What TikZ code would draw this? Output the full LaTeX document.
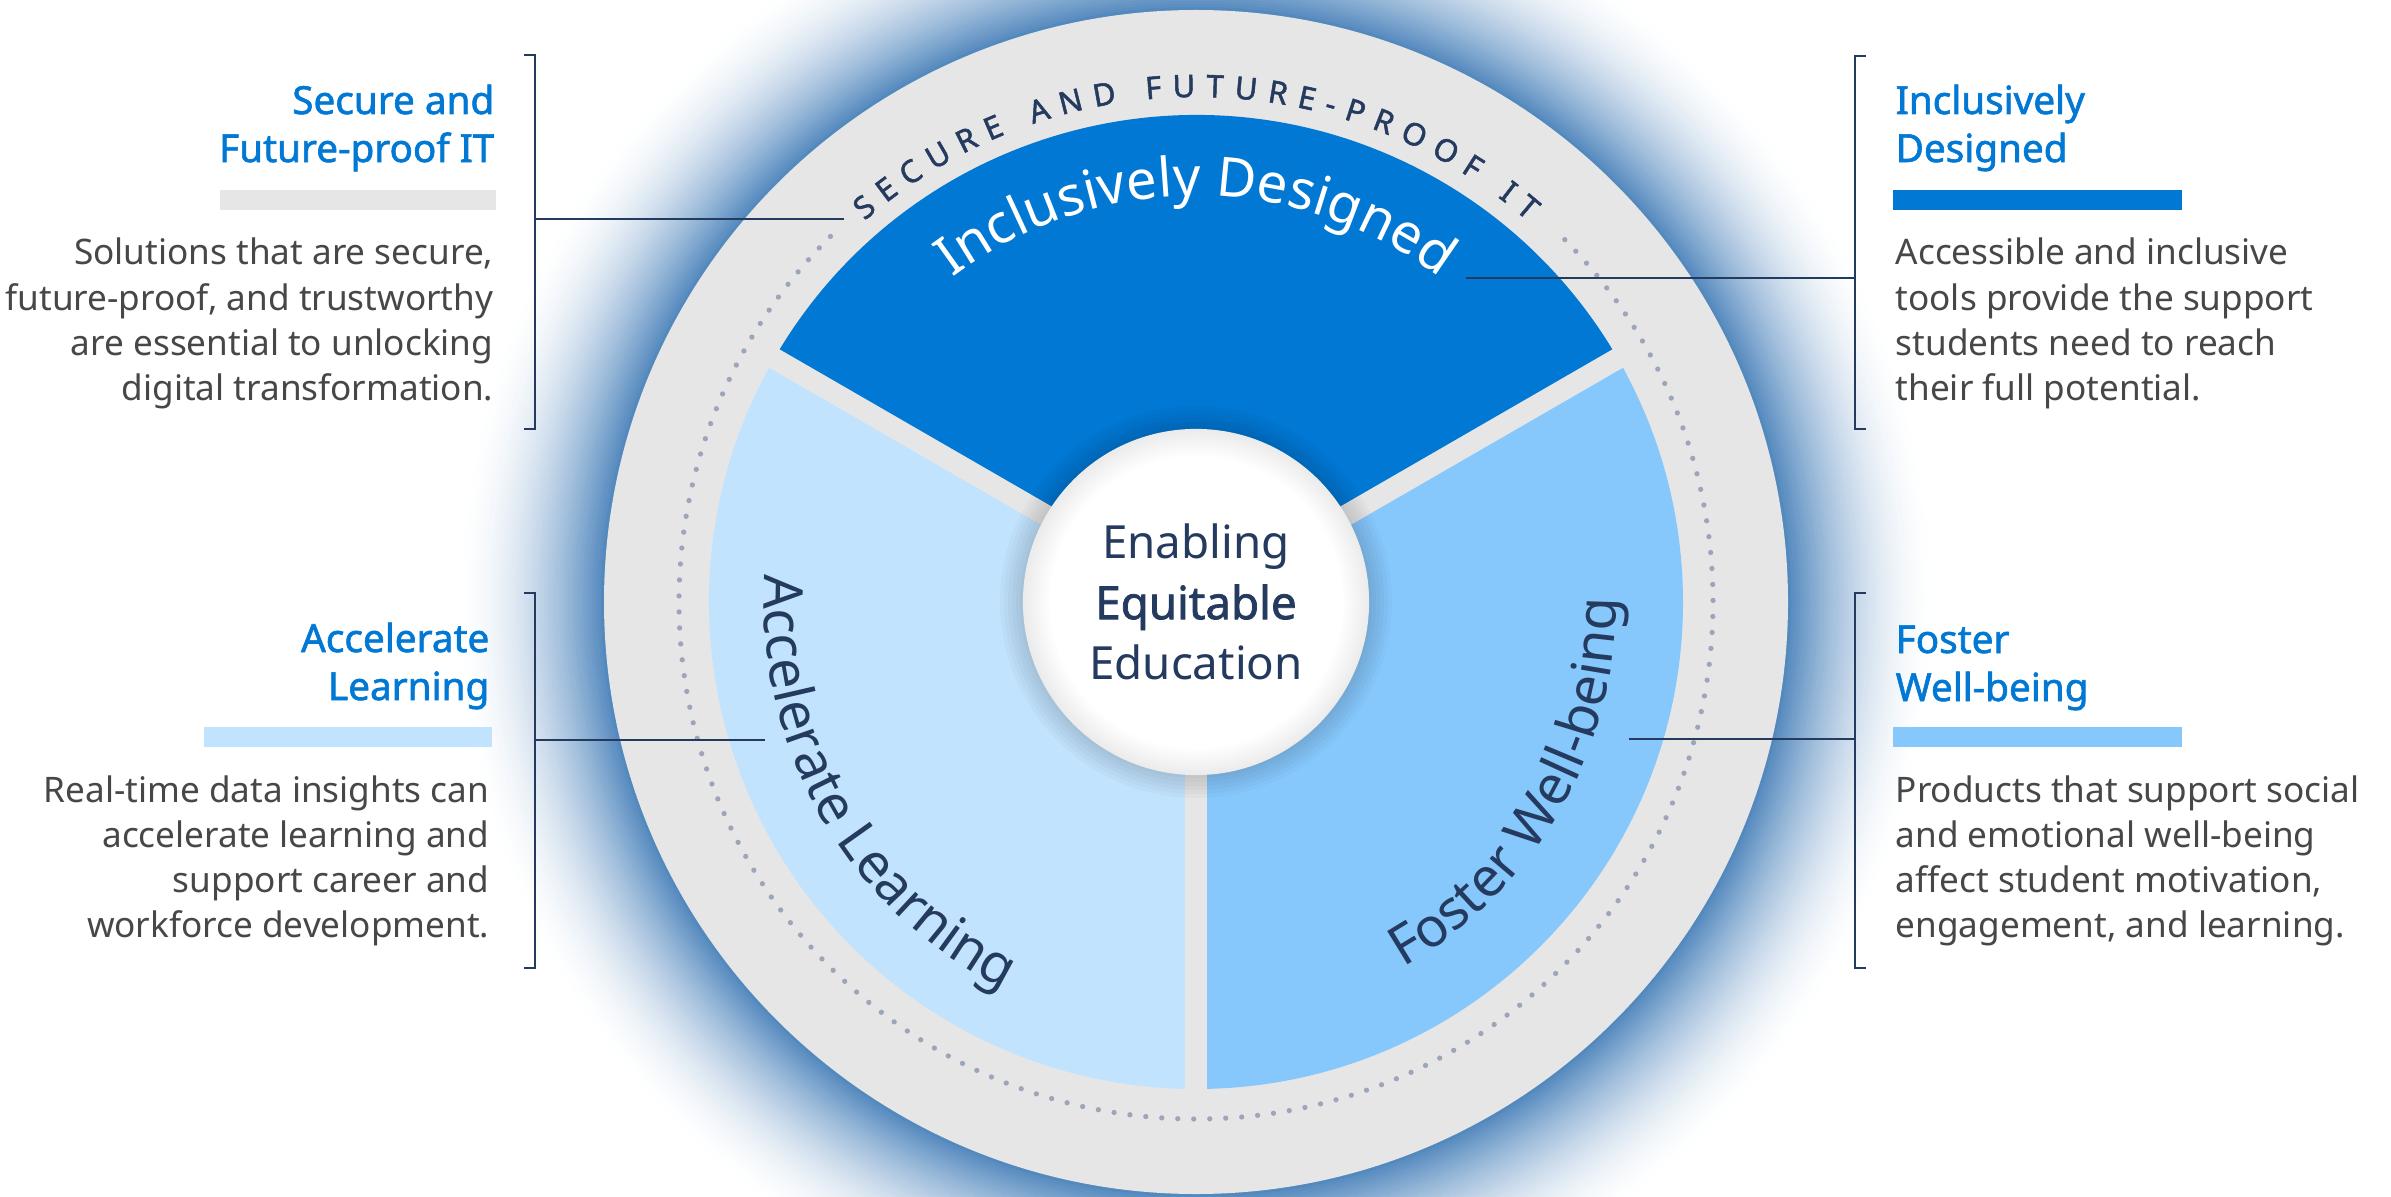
\documentclass[tikz,border=0pt]{standalone}
\usepackage{fontspec}
\setmainfont{Noto Sans}[AutoFakeBold=1.6]
\usepackage{xcolor}
\usetikzlibrary{decorations.text}

\definecolor{titleblue}{HTML}{0078D4}
\definecolor{bodygrey}{HTML}{474747}
\definecolor{navy}{HTML}{243A5E}
\definecolor{ringgrey}{HTML}{E6E6E6}
\definecolor{lightsec}{HTML}{C2E3FD}
\definecolor{midsec}{HTML}{87C8FC}
\definecolor{dotgrey}{HTML}{9DA5B8}
\definecolor{glowA}{RGB}{78,133,188}

\pgfdeclareradialshading{hubshade}{\pgfpoint{0bp}{0bp}}{color(0bp)=(white); color(21bp)=(white); color(25bp)=(black!8); color(50bp)=(black!8)}

\newcommand\textstack[2]{\begin{tabular}[t]{@{}#1@{}}#2\end{tabular}}

\begin{document}
\begin{tikzpicture}[x=0.01cm, y=0.01cm,
    title/.style={text=titleblue, font=\fontsize{11}{13.66}\selectfont\bfseries, inner sep=0},
    body/.style={text=bodygrey, font=\fontsize{10}{12.8}\selectfont, inner sep=0},
    bracket/.style={draw=navy, line width=0.6pt},
    gap/.style={draw=ringgrey, line width=6pt},
    dotring/.style={draw=dotgrey, line width=1.5pt, line cap=round, dash pattern=on 0pt off 4.55pt},
    hub/.style={circle, minimum size=3.46cm, inner sep=0, align=center, shading=hubshade, text=navy, font=\fontsize{13}{17.2}\selectfont}]
    \useasboundingbox (0,0) rectangle (2391,1196);
    \fill[white] (0,0) rectangle (2391,1196);
    \clip (0,0) rectangle (2391,1196);
    \coordinate (O) at (1196,594);

    % glow round the wheel
    \foreach \k in {3,6,...,150}{
        \pgfmathsetmacro\p{100*(\k/150)^1.8}
        \pgfmathsetmacro\rr{742-\k}
        \fill[glowA!\p!white] (O) circle (\rr);
    }

    % wheel
    \fill[ringgrey] (O) circle (592);
    \draw[dotring] (O) ++(135:517) arc[start angle=135, end angle=405, radius=517];
    \fill[titleblue] (O) -- ++(150:487) arc[start angle=150, end angle=30, radius=487] -- cycle;
    \fill[lightsec] (O) -- ++(150:487) arc[start angle=150, end angle=270, radius=487] -- cycle;
    \fill[midsec] (O) -- ++(270:487) arc[start angle=270, end angle=390, radius=487] -- cycle;
    \foreach \a in {30,150,270}
        \draw[gap] (O) -- ++(\a:495);
    \foreach \r in {176,180,...,196}
        \fill[black, opacity=0.025] (O) circle (\r);
    \node[hub] (hub) at (O) {Enabling\\\textbf{Equitable}\\Education};

    % texts on the wheel
    \path[decorate, decoration={text along path, text align=fit to path, text color=navy,
        text={|\fontsize{8.8}{10}\selectfont\bfseries|SECURE AND FUTURE-PROOF IT}}]
        (O) ++(131:505) arc[start angle=131, end angle=49, radius=505];
    \path[decorate, decoration={text along path, text align=center, text color=white,
        text={|\fontsize{15.5}{18}\selectfont|Inclusively Designed}}]
        (O) ++(170:406) arc[start angle=170, end angle=10, radius=406];
    \path[decorate, decoration={text along path, text align=center, text color=navy,
        text={|\fontsize{15.5}{18}\selectfont|Accelerate Learning}}]
        (O) ++(150:432) arc[start angle=150, end angle=270, radius=432];
    \path[decorate, decoration={text along path, text align=center, text color=navy,
        text={|\fontsize{15.5}{18}\selectfont|Foster Well-being}}]
        (O) ++(270:420) arc[start angle=270, end angle=390, radius=420];

    % secure and future-proof
    \node[title, anchor=base east] (itT) at (495,1082) {\textstack{r}{Secure and\\Future-proof IT}};
    \fill[ringgrey] (220,986) rectangle (496,1006);
    \node[body, anchor=base east] (itB) at (494,931) {\textstack{r}{Solutions that are secure,\\future-proof, and trustworthy\\are essential to unlocking\\digital transformation.}};
    \coordinate (itTop) at (535,1141);
    \coordinate (itBot) at (535,767);
    \coordinate (itJoin) at (535,977);
    \coordinate (itEnd) at (844,977);
    \draw[bracket] (itTop) ++(-11,0) -- (itTop) -- (itBot) -- ++(-11,0);
    \draw[bracket] (itJoin) -- (itEnd);

    % inclusively designed
    \node[title, anchor=base west] (idT) at (1895,1082) {\textstack{l}{Inclusively\\Designed}};
    \fill[titleblue] (1893,986) rectangle (2182,1006);
    \node[body, anchor=base west] (idB) at (1895,931) {\textstack{l}{Accessible and inclusive\\tools provide the support\\students need to reach\\their full potential.}};
    \coordinate (idTop) at (1855,1140);
    \coordinate (idBot) at (1855,767);
    \coordinate (idJoin) at (1855,918);
    \coordinate (idEnd) at (1466,918);
    \draw[bracket] (idTop) ++(11,0) -- (idTop) -- (idBot) -- ++(11,0);
    \draw[bracket] (idJoin) -- (idEnd);

    % accelerate learning
    \node[title, anchor=base east] (alT) at (490,544) {\textstack{r}{Accelerate\\Learning}};
    \fill[lightsec] (204,449) rectangle (492,469);
    \node[body, anchor=base east] (alB) at (490,394) {\textstack{r}{Real-time data insights can\\accelerate learning and\\support career and\\workforce development.}};
    \coordinate (alTop) at (535,603);
    \coordinate (alBot) at (535,228);
    \coordinate (alJoin) at (535,456);
    \coordinate (alEnd) at (765,456);
    \draw[bracket] (alTop) ++(-11,0) -- (alTop) -- (alBot) -- ++(-11,0);
    \draw[bracket] (alJoin) -- (alEnd);

    % foster well-being
    \node[title, anchor=base west] (fwT) at (1895,543) {\textstack{l}{Foster\\Well-being}};
    \fill[midsec] (1893,449) rectangle (2182,469);
    \node[body, anchor=base west] (fwB) at (1895,394) {\textstack{l}{Products that support social\\and emotional well-being\\affect student motivation,\\engagement, and learning.}};
    \coordinate (fwTop) at (1855,603);
    \coordinate (fwBot) at (1855,228);
    \coordinate (fwJoin) at (1855,457);
    \coordinate (fwEnd) at (1629,457);
    \draw[bracket] (fwTop) ++(11,0) -- (fwTop) -- (fwBot) -- ++(11,0);
    \draw[bracket] (fwJoin) -- (fwEnd);
\end{tikzpicture}
\end{document}
